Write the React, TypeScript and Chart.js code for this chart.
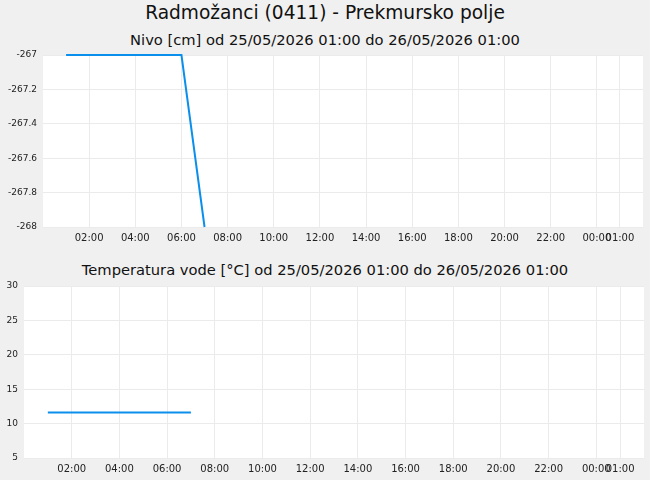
import { useEffect, useRef } from "react";
import { Chart, registerables } from "chart.js";

Chart.register(...registerables);

// hours since 25/05/2026 00:00
const hours = [1, 2, 3, 4, 5, 6, 7];
const nivo = [-267, -267, -267, -267, -267, -267, -268];
const temperatura = [11.6, 11.6, 11.6, 11.6, 11.6, 11.6, 11.6];

const xTickHours = [2, 4, 6, 8, 10, 12, 14, 16, 18, 20, 22, 24, 25];
const xTickLabels = ["02:00", "04:00", "06:00", "08:00", "10:00", "12:00", "14:00", "16:00", "18:00", "20:00", "22:00", "00:00", "01:00"];

const mainTitle = "Radmožanci (0411) - Prekmursko polje";
const nivoTitle = "Nivo [cm] od 25/05/2026 01:00 do 26/05/2026 01:00";
const tempTitle = "Temperatura vode [°C] od 25/05/2026 01:00 do 26/05/2026 01:00";

const FONT = "'DejaVu Sans', sans-serif";
const LINE = "#0b8fec";
const GRID = "#ebebeb";

const whitePlot = {
  id: "whitePlot",
  beforeDraw(chart: any) {
    const { ctx, chartArea: a } = chart;
    ctx.save();
    ctx.fillStyle = "#ffffff";
    ctx.fillRect(a.left, a.top, a.right - a.left, a.bottom - a.top);
    ctx.restore();
  },
};

function Panel({
  values,
  yMin,
  yMax,
  yStep,
  yWidth,
  xHeight,
  pad,
  top,
  height,
}: {
  values: number[];
  yMin: number;
  yMax: number;
  yStep: number;
  yWidth: number;
  xHeight: number;
  pad: { top: number; right: number };
  top: number;
  height: number;
}) {
  const ref = useRef<HTMLCanvasElement>(null);

  useEffect(() => {
    if (!ref.current) return;
    const chart = new Chart(ref.current, {
      type: "line",
      data: {
        datasets: [
          {
            data: hours.map((h, i) => ({ x: h, y: values[i] })),
            borderColor: LINE,
            borderWidth: 2,
            pointRadius: 0,
            tension: 0,
            clip: 3,
          },
        ],
      },
      options: {
        responsive: true,
        maintainAspectRatio: false,
        animation: false,
        layout: { padding: { top: pad.top, right: pad.right, left: 0, bottom: 0 } },
        plugins: { legend: { display: false }, tooltip: { enabled: false }, title: { display: false } },
        scales: {
          x: {
            type: "linear",
            min: 0,
            max: 26,
            afterBuildTicks: (s: any) => {
              s.ticks = xTickHours.map((v) => ({ value: v }));
            },
            afterFit: (s: any) => {
              s.height = xHeight;
              s.paddingLeft = 0;
              s.paddingRight = 0;
            },
            grid: { color: GRID, drawTicks: false },
            border: { display: false },
            ticks: {
              autoSkip: false,
              maxRotation: 0,
              padding: 5,
              color: "#222",
              font: { family: FONT, size: 10 },
              callback: (v: any) => xTickLabels[xTickHours.indexOf(Number(v))] ?? "",
            },
          },
          y: {
            min: yMin,
            max: yMax,
            afterFit: (s: any) => {
              s.width = yWidth;
              s.paddingTop = 0;
              s.paddingBottom = 0;
            },
            grid: { color: GRID, drawTicks: false },
            border: { display: false },
            ticks: {
              stepSize: yStep,
              padding: 6,
              color: "#222",
              font: { family: FONT, size: 9 },
              callback: (v: any) => String(Math.round(Number(v) * 10) / 10),
            },
          },
        },
      },
      plugins: [whitePlot],
    });
    return () => chart.destroy();
  }, []);

  return (
    <div style={{ position: "absolute", left: 0, top, width: 650, height }}>
      <canvas ref={ref} />
    </div>
  );
}

const titleStyle = (top: number, size: number): any => ({
  position: "absolute",
  left: 0,
  top,
  width: 650,
  textAlign: "center",
  fontFamily: FONT,
  fontSize: size,
  lineHeight: size + "px",
  color: "#111",
  whiteSpace: "nowrap",
});

export default function App() {
  return (
    <div style={{ position: "absolute", left: 0, top: 0, width: 650, height: 480, background: "#f0f0f0", overflow: "hidden" }}>
      <div style={titleStyle(4, 18.6)}>{mainTitle}</div>
      <div style={titleStyle(32.5, 14.7)}>{nivoTitle}</div>
      <Panel values={nivo} yMin={-268} yMax={-267} yStep={0.2} yWidth={43} xHeight={23} pad={{ top: 5, right: 7 }} top={50} height={200} />
      <div style={titleStyle(262.5, 14.7)}>{tempTitle}</div>
      <Panel values={temperatura} yMin={5} yMax={30} yStep={5} yWidth={24} xHeight={22} pad={{ top: 6, right: 6 }} top={280} height={200} />
    </div>
  );
}
